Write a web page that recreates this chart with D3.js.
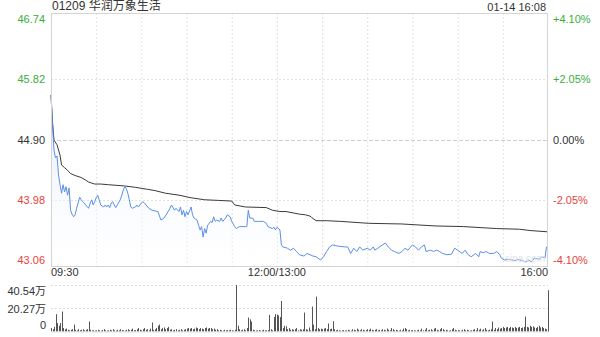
<!DOCTYPE html>
<html>
<head>
<meta charset="utf-8">
<script src="https://cdn.jsdelivr.net/npm/d3@7"></script>
<style>
  body { margin: 0; background: #fff; }
  text { font-family: "Liberation Sans", Arial, "Noto Sans CJK SC", sans-serif; }
</style>
</head>
<body>
<div id="chart"></div>
<script>
// Header text
const stockTitle = "01209 华润万象生活";
const stampText = "01-14 16:08";

// Price axis
const prevClose = 44.90;
const priceTicks = [46.74, 45.82, 44.90, 43.98, 43.06];
const pctTicks = ["+4.10%", "+2.05%", "0.00%", "-2.05%", "-4.10%"];

// Time axis (trading minutes since 09:30, lunch break removed)
const timeTickMinutes = [0, 150, 330];
const timeLabels = ["09:30", "12:00/13:00", "16:00"];

// Price line
const priceMinutes = [
  0, 1, 2, 3, 4, 5, 6, 7, 8, 9,
  10, 11, 12, 13, 14, 15, 16, 17, 18, 19,
  20, 21, 22, 23, 25, 26, 27, 28, 29, 30,
  31, 32, 33, 35, 36, 37, 38, 39, 40, 41,
  42, 43, 44, 46, 47, 48, 49, 50, 51, 52,
  53, 54, 56, 57, 58, 59, 60, 61, 62, 65,
  67, 69, 71, 73, 75, 77, 79, 80, 82, 83,
  85, 86, 87, 88, 89, 90, 91, 93, 94, 95,
  97, 98, 99, 100, 101, 102, 103, 104, 106, 107,
  108, 109, 110, 112, 113, 114, 116, 117, 119, 120,
  122, 123, 125, 129, 130, 131, 132, 134, 135, 138,
  141, 143, 144, 147, 148, 149, 150, 152, 153, 154,
  157, 159, 161, 163, 165, 168, 170, 172, 174, 176,
  179, 181, 183, 185, 187, 191, 195, 197, 199, 201,
  203, 205, 207, 210, 212, 214, 215, 217, 220, 222,
  224, 226, 228, 231, 233, 235, 237, 240, 242, 244,
  246, 248, 249, 252, 254, 256, 258, 260, 263, 266,
  268, 270, 273, 275, 277, 279, 282, 284, 285, 287,
  289, 291, 294, 296, 298, 299, 301, 304, 306, 308,
  310, 313, 315, 317, 319, 321, 324, 326, 328, 329,
  330
];
const prices = [
  45.58, 45.12, 44.74, 44.62, 44.65, 44.36, 44.21, 44.08, 44.21, 44.10,
  44.18, 44.05, 44.16, 43.82, 43.76, 43.72, 43.75, 43.85, 43.93, 44.02,
  43.98, 43.95, 43.93, 43.90, 43.85, 43.93, 43.98, 43.90, 43.95, 44.01,
  44.05, 43.98, 43.90, 43.87, 43.90, 43.87, 43.90, 43.86, 43.93, 43.95,
  43.90, 43.86, 43.90, 43.98, 44.05, 44.13, 44.18, 44.15, 44.08, 43.98,
  43.87, 43.85, 43.87, 43.90, 43.87, 43.90, 43.93, 43.95, 43.93, 43.85,
  43.82, 43.81, 43.80, 43.67, 43.70, 43.77, 43.85, 43.90, 43.82, 43.85,
  43.80, 43.87, 43.75, 43.82, 43.72, 43.80, 43.75, 43.87, 43.75, 43.70,
  43.67, 43.59, 43.52, 43.57, 43.41, 43.54, 43.47, 43.59, 43.65, 43.63,
  43.72, 43.65, 43.67, 43.65, 43.70, 43.65, 43.70, 43.75, 43.72, 43.65,
  43.57, 43.54, 43.57, 43.57, 43.57, 43.82, 43.70, 43.70, 43.65, 43.65,
  43.65, 43.62, 43.57, 43.54, 43.56, 43.52, 43.56, 43.52, 43.29, 43.26,
  43.24, 43.21, 43.24, 43.19, 43.14, 43.12, 43.16, 43.14, 43.12, 43.11,
  43.06, 43.11, 43.19, 43.26, 43.29, 43.27, 43.26, 43.26, 43.16, 43.24,
  43.19, 43.26, 43.21, 43.24, 43.21, 43.26, 43.21, 43.24, 43.29, 43.32,
  43.26, 43.21, 43.19, 43.16, 43.19, 43.24, 43.21, 43.29, 43.26, 43.21,
  43.26, 43.29, 43.19, 43.21, 43.19, 43.21, 43.19, 43.16, 43.14, 43.15,
  43.24, 43.21, 43.16, 43.21, 43.14, 43.11, 43.16, 43.11, 43.19, 43.17,
  43.19, 43.16, 43.16, 43.19, 43.14, 43.09, 43.06, 43.07, 43.06, 43.05,
  43.07, 43.05, 43.03, 43.06, 43.03, 43.09, 43.07, 43.11, 43.09, 43.26,
  43.27
];

// Average price line
const avgMinutes = [
  0, 1, 2, 4, 5, 6, 7, 9, 11, 13,
  16, 20, 23, 25, 29, 33, 38, 49, 56, 61,
  64, 69, 76, 85, 93, 102, 111, 120, 122, 129,
  143, 147, 152, 156, 165, 169, 172, 173, 176, 183,
  192, 211, 233, 255, 274, 296, 311, 318, 330
];
const avgPrices = [
  45.58, 45.17, 44.89, 44.82, 44.74, 44.66, 44.51, 44.47, 44.43, 44.38,
  44.35, 44.32, 44.28, 44.25, 44.22, 44.22, 44.21, 44.19, 44.17, 44.15,
  44.14, 44.12, 44.08, 44.05, 44.01, 43.98, 43.97, 43.96, 43.90, 43.87,
  43.86, 43.82, 43.80, 43.80, 43.76, 43.75, 43.73, 43.71, 43.66, 43.66,
  43.65, 43.62, 43.61, 43.58, 43.57, 43.54, 43.53, 43.51, 43.49
];

// Volume per minute (万股), index = trading minute
const volumes = [
  3, 2, 4, 15.1, 7.3, 5, 7.3, 17.4, 3, 2,
  2.5, 1.5, 1, 1.5, 2, 6, 1.5, 1, 2, 1,
  1.5, 2, 1, 1.5, 2, 8.7, 1.5, 1, 1, 0.8,
  1, 1.5, 1, 0.8, 1.2, 2, 1, 0.8, 1, 1.5,
  1, 2, 1, 0.8, 1.5, 1, 2, 1.2, 1, 0.8,
  1.5, 2, 1, 1.5, 2.5, 1, 1.2, 2, 3, 1.5,
  1, 2, 3, 1.5, 2, 1, 2.5, 7.8, 1.5, 2,
  3, 5, 6, 2, 3, 3.5, 2, 3, 4, 1.5,
  2, 1, 1.5, 2, 1, 1.5, 2, 1, 1.5, 2,
  2.5, 3, 2.5, 3, 2, 2.5, 3.5, 3, 2, 3,
  2.5, 2, 3, 3.5, 2.5, 3, 3, 2, 2.5, 1.5,
  2, 1, 1.5, 1, 0.8, 1.5, 1, 1.2, 1, 1.5,
  1, 0.8, 1.5, 40.54, 5, 2, 1, 1.5, 2, 1,
  3, 12.2, 10.6, 8.7, 1.5, 1, 0.8, 1, 1.2, 0.8,
  1, 1.5, 1, 1, 1.2, 14.5, 2, 1, 12.6, 15.1,
  14.7, 14, 12.5, 26.6, 3, 5, 4.5, 2, 3, 1.5,
  2, 1.5, 2, 3, 1, 2, 1.5, 2, 16.5, 2,
  1.5, 3.5, 1, 21.7, 6, 2, 30.4, 3, 2, 2.5,
  2, 2.5, 3, 2, 7, 2, 2.5, 9, 2, 1,
  1.5, 1, 0.8, 1, 1.2, 0.8, 1, 1.5, 1, 0.8,
  2, 1.5, 1, 2.5, 1.5, 1, 2, 1.5, 1, 1.2,
  2, 1.5, 2.5, 1.5, 1, 1.5, 2, 1, 1.5, 1,
  2, 1.5, 1, 2.5, 1.5, 1, 3, 2, 1, 1.5,
  1, 0.8, 1.5, 1, 2.5, 3, 2, 1, 1.5, 1,
  1.2, 1, 0.8, 1, 1.5, 1, 2.5, 1, 1.5, 3,
  1, 1.5, 2, 1, 2.5, 3, 1.5, 1, 2, 3,
  2, 1, 1.5, 1, 0.8, 1, 2, 3, 1.5, 1,
  1.2, 1, 0.8, 1.5, 2, 1, 1.5, 1, 0.8, 1,
  1.5, 2, 1, 3, 1.5, 2.5, 1, 2, 3, 1.5,
  1, 1.5, 2, 8.7, 1.5, 3, 2, 3.5, 2.5, 3,
  4, 3, 3.5, 4, 3, 4, 3.5, 3, 4, 3,
  3.5, 4, 3, 3.5, 4, 13, 4, 3.5, 5, 4,
  4.5, 3.5, 3, 4, 5, 3.5, 4, 3, 2.5, 2,
  36
];
const volTicks = [40.54, 20.27, 0];
const volTickLabels = ["40.54万", "20.27万", "0"];

// Layout
const W = 600, H = 337;
const plot = { left: 51, right: 548, top: 13, bottom: 266 };
const volPanel = { top: 285, bottom: 331.5 };

const green = "#3aae3a", red = "#e8433a", dark = "#333";
const tickColor = (v) => v > prevClose ? green : v < prevClose ? red : dark;

const svg = d3.select("#chart")
    .append("svg")
    .attr("width", W)
    .attr("height", H);

// Scales
const x = d3.scaleLinear().domain([0, 330]).range([plot.left, plot.right]);
const y = d3.scaleLinear().domain([43.06, 46.74]).range([260, 19]);
const volY = d3.scaleLinear().domain([0, 40.54]).range([volPanel.bottom, volPanel.top]);

// Gradient for the area under price
const defs = svg.append("defs");
const grad = defs.append("linearGradient")
    .attr("id", "areaGrad")
    .attr("x1", 0).attr("y1", 0).attr("x2", 0).attr("y2", 1);
grad.append("stop").attr("offset", "0%").attr("stop-color", "#dfe9fb").attr("stop-opacity", 0.9);
grad.append("stop").attr("offset", "100%").attr("stop-color", "#ffffff").attr("stop-opacity", 0.3);

// Vertical grid (every 30 trading minutes)
const vGrid = d3.range(30, 330, 30);
svg.append("g")
    .selectAll("line")
    .data(vGrid)
    .join("line")
    .attr("x1", d => x(d) + 0.5).attr("x2", d => x(d) + 0.5)
    .attr("y1", plot.top).attr("y2", plot.bottom)
    .attr("stroke", "#e2e2e2")
    .attr("stroke-dasharray", "2,2");

// Horizontal grid
svg.append("g")
    .selectAll("line")
    .data(priceTicks.slice(1, 4))
    .join("line")
    .attr("x1", plot.left).attr("x2", plot.right)
    .attr("y1", d => Math.round(y(d)) + 0.5).attr("y2", d => Math.round(y(d)) + 0.5)
    .attr("stroke", d => d === prevClose ? "#cfcfcf" : "#e2e2e2")
    .attr("stroke-dasharray", d => d === prevClose ? "4,2" : "2,2");

// Area + price line
const pts = d3.zip(priceMinutes, prices);
svg.append("path")
    .datum(pts)
    .attr("fill", "url(#areaGrad)")
    .attr("d", d3.area().x(d => x(d[0])).y0(plot.bottom).y1(d => y(d[1])));

svg.append("path")
    .datum(d3.zip(avgMinutes, avgPrices))
    .attr("fill", "none")
    .attr("stroke", "#3a3a3a")
    .attr("stroke-width", 1)
    .attr("d", d3.line().x(d => x(d[0])).y(d => y(d[1])));

svg.append("path")
    .datum(pts)
    .attr("fill", "none")
    .attr("stroke", "#5b8fe8")
    .attr("stroke-width", 1)
    .attr("d", d3.line().x(d => x(d[0])).y(d => y(d[1])));

// Faint watermark
svg.append("text")
    .attr("x", 505).attr("y", 262)
    .attr("font-size", 10)
    .attr("fill", "#e4e4e4")
    .text("sina.com");

// Plot frame
svg.append("rect")
    .attr("x", plot.left + 0.5).attr("y", plot.top + 0.5)
    .attr("width", plot.right - plot.left - 1).attr("height", plot.bottom - plot.top)
    .attr("fill", "none")
    .attr("stroke", "#d4d4d4");

// Left price labels
const yAxisL = svg.append("g")
    .attr("transform", `translate(${plot.left - 3},0)`)
    .call(d3.axisLeft(y).tickValues(priceTicks).tickSize(0).tickFormat(d3.format(".2f")));
yAxisL.select(".domain").remove();
yAxisL.selectAll("text")
    .attr("font-size", 11)
    .attr("fill", d => tickColor(d));

// Right percent labels
const yAxisR = svg.append("g")
    .attr("transform", `translate(${plot.right + 2},0)`)
    .call(d3.axisRight(y).tickValues(priceTicks).tickSize(0).tickFormat((d, i) => pctTicks[i]));
yAxisR.select(".domain").remove();
yAxisR.selectAll("text")
    .attr("font-size", 11)
    .attr("fill", d => tickColor(d));

// Time labels
svg.append("g")
    .selectAll("text")
    .data(timeTickMinutes)
    .join("text")
    .attr("x", d => x(d))
    .attr("y", 276)
    .attr("font-size", 11)
    .attr("fill", dark)
    .attr("text-anchor", (d, i) => i === 0 ? "start" : i === timeTickMinutes.length - 1 ? "end" : "middle")
    .text((d, i) => timeLabels[i]);

// Header
svg.append("text")
    .attr("x", 52).attr("y", 10)
    .attr("font-size", 12)
    .attr("fill", dark)
    .text(stockTitle);

svg.append("text")
    .attr("x", 546).attr("y", 11)
    .attr("font-size", 11)
    .attr("fill", dark)
    .attr("text-anchor", "end")
    .text(stampText);

// Volume grid
svg.append("g")
    .selectAll("line")
    .data(volTicks.slice(0, 2))
    .join("line")
    .attr("x1", plot.left).attr("x2", plot.right)
    .attr("y1", d => Math.round(volY(d)) + 0.5).attr("y2", d => Math.round(volY(d)) + 0.5)
    .attr("stroke", "#dcdcdc")
    .attr("stroke-dasharray", "2,2");

// Volume bars
svg.append("g")
    .selectAll("line")
    .data(volumes)
    .join("line")
    .attr("x1", (d, i) => Math.round(x(i)) + 0.5).attr("x2", (d, i) => Math.round(x(i)) + 0.5)
    .attr("y1", volY(0)).attr("y2", d => volY(d))
    .attr("stroke", "#555")
    .attr("stroke-width", 1);

// Volume baseline
svg.append("line")
    .attr("x1", plot.left).attr("x2", plot.right)
    .attr("y1", volPanel.bottom + 0.5).attr("y2", volPanel.bottom + 0.5)
    .attr("stroke", "#e0e0e0");

// Volume labels
const volLabelY = [291, 309, 325];
svg.append("g")
    .selectAll("text")
    .data(volTicks)
    .join("text")
    .attr("x", 46)
    .attr("y", (d, i) => volLabelY[i])
    .attr("dy", "0.35em")
    .attr("font-size", 11)
    .attr("fill", dark)
    .attr("text-anchor", "end")
    .text((d, i) => volTickLabels[i]);
</script>
</body>
</html>
